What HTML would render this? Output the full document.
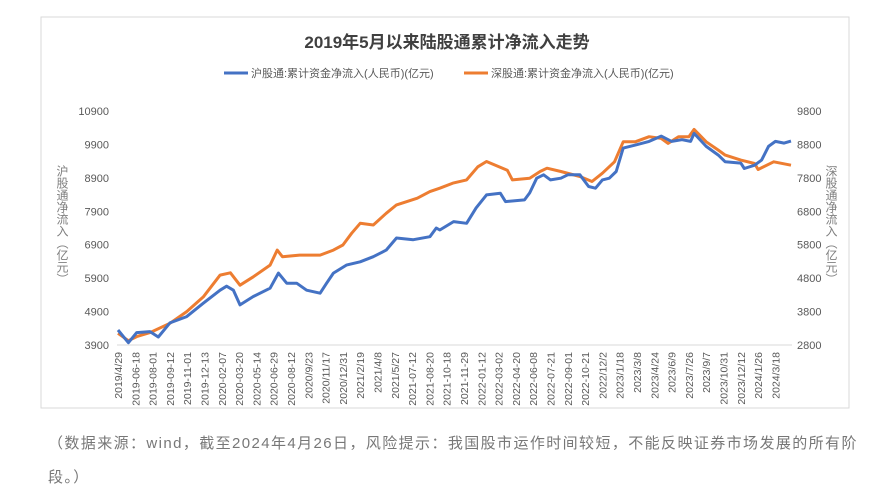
<!DOCTYPE html>
<html><head><meta charset="utf-8"><style>
body{margin:0;background:#fff;width:893px;height:504px;overflow:hidden;font-family:"Liberation Sans","Noto Sans CJK SC",sans-serif;}
</style></head><body>
<svg width="893" height="504" style="position:absolute;left:0;top:0">
<rect x="41" y="17" width="808" height="391" fill="#fff" stroke="#d9d9d9"/>
<text x="447" y="48" text-anchor="middle" font-size="17" font-weight="bold" fill="#404040" font-family="Liberation Sans,Noto Sans CJK SC,sans-serif">2019年5月以来陆股通累计净流入走势</text>
<g font-size="11" fill="#595959" font-family="Liberation Sans,Noto Sans CJK SC,sans-serif">
<line x1="224" y1="73" x2="248" y2="73" stroke="#4472c4" stroke-width="3"/>
<text x="251" y="77">沪股通:累计资金净流入(人民币)(亿元)</text>
<line x1="464" y1="73" x2="488" y2="73" stroke="#ed7d31" stroke-width="3"/>
<text x="491" y="77">深股通:累计资金净流入(人民币)(亿元)</text>
</g>
<line x1="117" y1="345" x2="792" y2="345" stroke="#d9d9d9"/>
<g id="ticks" font-size="11" fill="#595959"></g>
<text transform="translate(62,225)" font-size="12" fill="#7f7f7f" text-anchor="middle" style="writing-mode:vertical-rl">沪股通净流入（亿元）</text>
<text transform="translate(831,225)" font-size="12" fill="#7f7f7f" text-anchor="middle" style="writing-mode:vertical-rl">深股通净流入（亿元）</text>
<g id="series"></g>
</svg>
<div style="position:absolute;left:48px;top:427px;width:815px;font-size:15px;letter-spacing:1.4px;line-height:34px;color:#777;">（数据来源：wind，截至2024年4月26日，风险提示：我国股市运作时间较短，不能反映证券市场发展的所有阶段。）</div>
<script>
const xLabels=["2019/4/29","2019-06-18","2019-08-01","2019-09-12","2019-11-01","2019-12-13","2020-02-07","2020-03-20","2020-05-14","2020-06-29","2020-08-12","2020/9/23","2020/11/17","2020/12/31","2021/2/19","2021/4/8","2021/5/27","2021-07-12","2021-08-20","2021-10-18","2021-11-29","2022-01-12","2022-03-02","2022-04-20","2022-06-08","2022-07-21","2022-09-01","2022-10-21","2022/12/2","2023/1/18","2023/3/8","2023/4/24","2023/6/9","2023/7/26","2023/9/7","2023/10/31","2023/12/12","2024/1/26","2024/3/18"];
const leftTicks=[3900,4900,5900,6900,7900,8900,9900,10900];
const rightTicks=[2800,3800,4800,5800,6800,7800,8800,9800];
const shT=[0,0.6,1.08,1.85,2.33,3,3.97,4.93,5.9,6.28,6.67,7.05,7.82,8.79,9.27,9.75,10.33,10.9,11.68,12.06,12.45,13.2,14,14.76,15.5,16.1,17.07,18.03,18.4,18.6,19.4,20.15,20.7,21.3,22.1,22.4,23.5,23.8,24.2,24.6,25,25.6,26,26.7,27.2,27.6,28,28.4,28.8,29.2,29.9,30.7,31.4,32,32.6,33.1,33.3,34,34.7,35.1,36,36.2,36.8,37.2,37.6,38,38.5,38.9];
const shV=[4350,3970,4270,4300,4140,4560,4750,5150,5540,5660,5540,5100,5350,5600,6050,5750,5750,5540,5450,5750,6050,6290,6390,6540,6740,7100,7050,7140,7400,7340,7590,7540,8000,8390,8440,8190,8240,8450,8890,8990,8840,8890,8990,8990,8640,8590,8840,8890,9090,9790,9880,9990,10150,9990,10040,9990,10230,9840,9580,9380,9340,9180,9280,9430,9840,9990,9940,10000];
const szT=[0,0.6,1.08,1.85,3,3.97,4.93,5.9,6.5,7.05,7.82,8.79,9.2,9.5,10.5,11.68,12.45,13,13.5,14,14.76,15.5,16.1,17.3,18.03,18.6,19.4,20.15,20.8,21.3,22.5,22.8,23.8,24.4,24.8,25.6,26.7,27.4,28,28.7,29.2,29.9,30.7,31.4,31.8,32.4,33,33.3,34,34.7,35.1,36,36.8,37,37.9,38.9];
const szV=[3150,2930,3050,3170,3450,3800,4240,4890,4960,4590,4840,5190,5640,5440,5490,5490,5640,5790,6140,6440,6390,6740,6990,7190,7390,7490,7650,7740,8130,8290,8030,7740,7790,7990,8090,7990,7840,7690,7940,8280,8880,8880,9030,8980,8830,9030,9030,9250,8880,8630,8480,8330,8230,8050,8280,8180];
const NS='http://www.w3.org/2000/svg';
const x0=118,dx=17.3,yBase=345,k=234/7000;
const X=t=>x0+t*dx;
const YL=v=>yBase-(v-3900)*k;
const YR=v=>yBase-(v-2800)*k;
const tk=document.getElementById('ticks');
function txt(x,y,s,anchor,rot){const e=document.createElementNS(NS,'text');e.setAttribute('x',x);e.setAttribute('y',y);e.setAttribute('text-anchor',anchor);if(rot)e.setAttribute('transform',rot);e.textContent=s;tk.appendChild(e);return e;}
leftTicks.forEach(v=>{const e=txt(109,YL(v)+4,v,'end');

});
rightTicks.forEach(v=>{const e=txt(797,YR(v)+4,v,'start');

});
xLabels.forEach((s,i)=>{const x=X(i)+4,y=352;const e=txt(x,y,s,'end','rotate(-90 '+x+' '+y+')');
e.setAttribute('font-size','10.5');

});
const sg=document.getElementById('series');
function line(T,V,Y,color,name){const p=document.createElementNS(NS,'polyline');
p.setAttribute('points',T.map((t,i)=>X(t).toFixed(1)+','+Y(V[i]).toFixed(1)).join(' '));
p.setAttribute('fill','none');p.setAttribute('stroke',color);p.setAttribute('stroke-width','3');p.setAttribute('stroke-linejoin','round');


sg.appendChild(p);}
line(szT,szV,YR,'#ed7d31','series-shenzhen');
line(shT,shV,YL,'#4472c4','series-shanghai');
</script>
</body></html>
